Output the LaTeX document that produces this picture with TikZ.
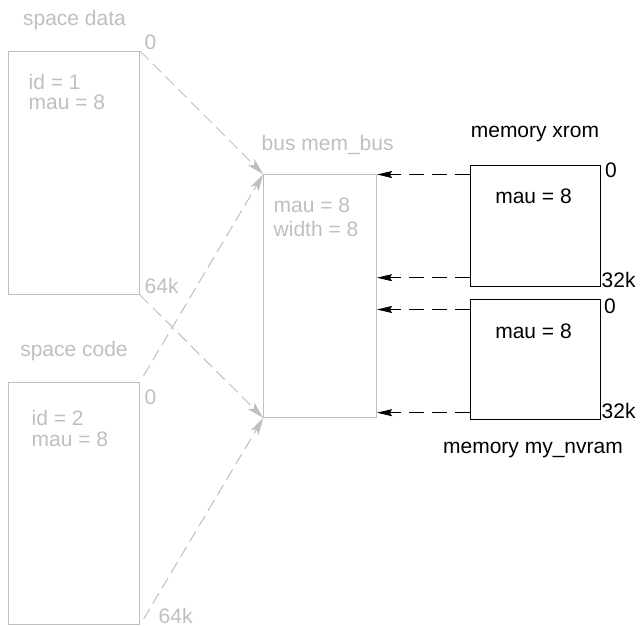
\documentclass[tikz,border=0pt]{standalone}
\usepackage{fontspec}
\setmainfont{Liberation Sans}
\usetikzlibrary{arrows.meta}
\colorlet{lightline}{black!25}
\tikzset{
  faint/.style={text=lightline,font=\fontsize{21}{25}\selectfont,inner sep=0pt},
  plain/.style={text=black,font=\fontsize{21}{25}\selectfont,inner sep=0pt},
  spacebox/.style={draw=lightline,line width=1pt,inner sep=0pt,anchor=north west},
  membox/.style={draw=black,line width=1.2pt,inner sep=0pt,anchor=north west},
}
\begin{document}
\begin{tikzpicture}[x=1pt,y=-1pt,
    spacelink/.style={draw=lightline,line width=1pt,dash pattern=on 12pt off 6pt,
      -{Stealth[length=17pt,width=9pt,inset=4pt]}},
    memlink/.style={draw=black,line width=1pt,dash pattern=on 15pt off 8pt,
      -{Stealth[length=15pt,width=7pt,inset=2pt]}}]
  \useasboundingbox (0,0) rectangle (643,626);
  % address spaces
  \node[spacebox,minimum width=130.7pt,minimum height=243pt] (data) at (8.3,51) {};
  \node[spacebox,minimum width=130.7pt,minimum height=242.3pt] (code) at (8.3,381.7) {};
  \node[faint,anchor=base] (datatitle) at (74.5,26) {space data};
  \node[faint,anchor=base] (codetitle) at (74,356) {space code};
  \node[faint,anchor=base west] (dataid) at (28.5,89) {id = 1};
  \node[faint,anchor=base west] (datamau) at (28.5,110) {mau = 8};
  \node[faint,anchor=base west] (codeid) at (31.5,425) {id = 2};
  \node[faint,anchor=base west] (codemau) at (31.5,446.5) {mau = 8};
  \node[faint,anchor=base west] (datalo) at (144.5,50) {0};
  \node[faint,anchor=base west] (datahi) at (144.5,293) {64k};
  \node[faint,anchor=base west] (codelo) at (144.5,404) {0};
  \node[faint,anchor=base west] (codehi) at (158.5,623) {64k};
  % bus
  \node[spacebox,minimum width=112.7pt,minimum height=242.7pt] (bus) at (263.3,174.3) {};
  \node[faint,anchor=base west] (bustitle) at (261.5,150) {bus mem\_bus};
  \node[faint,anchor=base west] (busmau) at (273.5,212.3) {mau = 8};
  \node[faint,anchor=base west] (buswidth) at (273.5,236.7) {width = 8};
  % memories
  \node[membox,minimum width=130pt,minimum height=121pt] (xrom) at (470,165) {};
  \node[membox,minimum width=130pt,minimum height=120pt] (nvram) at (470,299) {};
  \node[plain,anchor=base] (xromtitle) at (535,137) {memory xrom};
  \node[plain,anchor=base] (nvramtitle) at (533,453.3) {memory my\_nvram};
  \node[plain,anchor=base] (xrommau) at (533.5,203) {mau = 8};
  \node[plain,anchor=base] (nvrammau) at (533.5,338) {mau = 8};
  \node[plain,anchor=base west] (xromlo) at (605,177) {0};
  \node[plain,anchor=base west] (xromhi) at (601.5,287) {32k};
  \node[plain,anchor=base west] (nvramlo) at (604,313) {0};
  \node[plain,anchor=base west] (nvramhi) at (601.5,418) {32k};
  % spaces to bus
  \draw[spacelink] (data.north east) -- (bus.north west);
  \draw[spacelink] (data.south east) -- (bus.south west);
  \draw[spacelink,shorten <=7pt] (code.north east) -- (bus.north west);
  \draw[spacelink,shorten <=7pt] (code.south east) -- (bus.south west);
  % memories to bus
  \coordinate (xromtop) at ([yshift=-9.5pt]xrom.north west);
  \coordinate (xrombot) at ([yshift=9.5pt]xrom.south west);
  \coordinate (nvramtop) at ([yshift=-10.5pt]nvram.north west);
  \coordinate (nvrambot) at ([yshift=7.5pt]nvram.south west);
  \foreach \p in {xromtop,xrombot,nvramtop,nvrambot}
    \draw[memlink] (\p) -- (\p -| bus.east);
\end{tikzpicture}
\end{document}
